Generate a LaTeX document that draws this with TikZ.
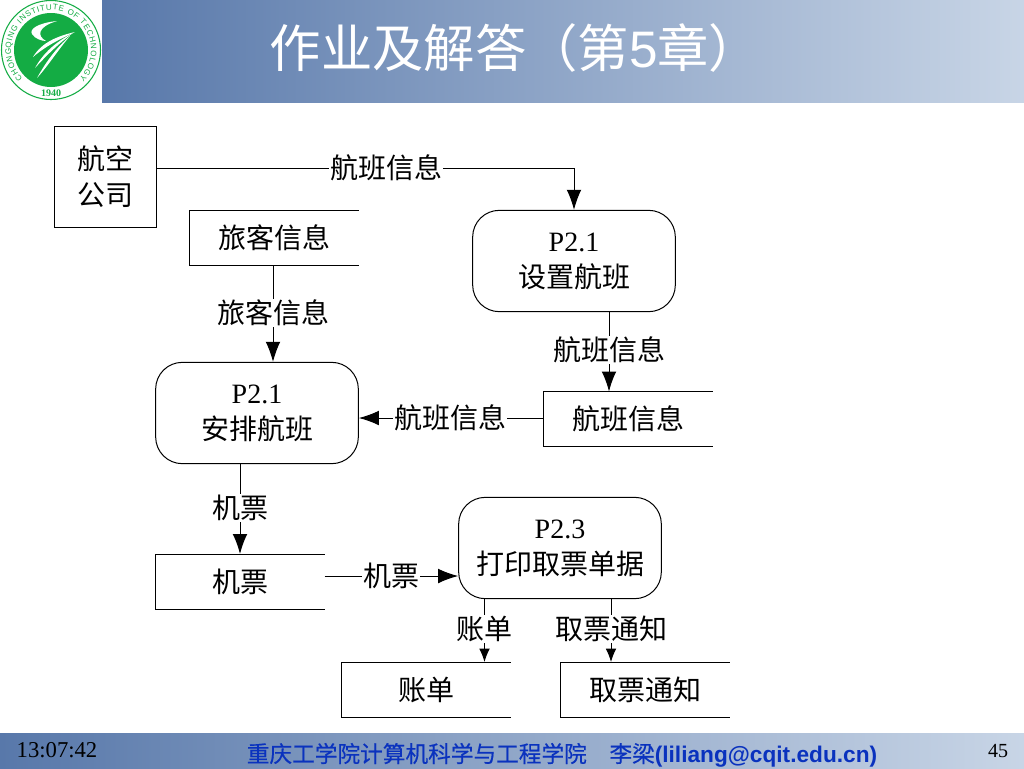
\documentclass[tikz,border=0pt]{standalone}
\usepackage{fontspec}
\setmainfont{Liberation Serif}
\newfontfamily\cjk{Noto Sans CJK SC}
\newfontfamily\cjkfoot[FakeBold=0.4]{Noto Sans CJK SC}
\newfontfamily\arialfont{Liberation Sans}
\usetikzlibrary{arrows.meta,decorations.text,positioning}
\definecolor{barleft}{RGB}{88,120,170}
\definecolor{barright}{RGB}{200,213,230}
\definecolor{logogreen}{RGB}{20,172,68}
\definecolor{footblue}{RGB}{10,50,190}

\begin{document}
\begin{tikzpicture}[
  x=0.75pt, y=-0.75pt, line width=0.75pt,
  entity/.style={draw, minimum width=76.5pt, minimum height=75.75pt, align=center, inner sep=0pt},
  proc/.style={draw, rounded corners=20pt, minimum width=152pt, minimum height=76pt, align=center, inner sep=0pt},
  store/.style={minimum width=126.25pt, minimum height=40.5pt, inner sep=0pt},
  lbl/.style={inner sep=0.5pt, fill=white},
  arr/.style={-{Latex[length=15pt,width=11pt]}},
  smallarr/.style={-{Latex[length=10pt,width=8pt]}},
  every node/.style={font=\fontsize{21}{27}\selectfont\cjk}
]
\useasboundingbox (0,0) rectangle (1024,768);

% ======= Header =======
\shade[left color=barleft, right color=barright] (102,0) rectangle (1024,102);
\node[font=\fontsize{38.5}{40}\selectfont\cjk, text=white] (title) at (515,48) {作业及解答（第{\arialfont 5}章）};

% ======= Logo =======
\draw[logogreen, line width=0.8pt] (51,50) circle (49.5);
\fill[logogreen] (51,50) circle (37);
\path[decorate, decoration={text along path, text align={fit to path},
    text={|\fontsize{6}{7}\selectfont\arialfont\color{logogreen}|CHONGQING INSTITUTE OF TECHNOLOGY}}]
  (22.7,78.3) arc[start angle=135, end angle=405, radius=40];
\node[font=\fontsize{7.5}{8}\selectfont\rmfamily\bfseries, text=logogreen, inner sep=0pt] (year) at (51,93) {1940};
\fill[white] (57,21) .. controls (38,23) and (29,29) .. (32,34)
  .. controls (35,39) and (42,41) .. (46,41)
  .. controls (37,36) and (37,27) .. (57,21);
\fill[white] (75,32) .. controls (58,36) and (42,42) .. (33,57) .. controls (46,46) and (58,40) .. (75,32);
\fill[white] (73,33) .. controls (56,42) and (44,52) .. (35,68) .. controls (46,56) and (58,44) .. (73,33);
\fill[white] (70,36) .. controls (56,48) and (46,62) .. (37,78) .. controls (48,66) and (58,50) .. (70,36);

% ======= Footer =======
\shade[left color=barleft, right color=barright] (0,733) rectangle (1024,768);
\node[font=\fontsize{17}{18}\selectfont] (clock) at (57,750) {13:07:42};
\node[font=\fontsize{17}{18}\selectfont\cjkfoot, text=footblue] (school) at (562,755)
  {重庆工学院计算机科学与工程学院\hspace{17pt}李梁{\arialfont\bfseries (liliang@cqit.edu.cn)}};
\node[font=\fontsize{15}{18}\selectfont] (pageno) at (998,751) {45};

% ======= Nodes =======
\node[entity] (airline) at (105,177) {航空\\公司};
\node[proc] (setup) at (574,261) {{\rmfamily P2.1}\\设置航班};
\node[proc] (arrange) at (257,413) {{\rmfamily P2.1}\\安排航班};
\node[proc] (print) at (560,548) {{\rmfamily P2.3}\\打印取票单据};

\node[store] (passdata) at (274,237.5) {旅客信息};
\node[store] (flightdata) at (628,419) {航班信息};
\node[store] (ticketdata) at (240,581.5) {机票};
\node[store] (billdata) at (426,689.5) {账单};
\node[store] (noticedata) at (645,689.5) {取票通知};

\foreach \s in {passdata,flightdata,ticketdata,billdata,noticedata}
  \draw (\s.north east) -- (\s.north west) -- (\s.south west) -- (\s.south east);

% ======= Labels =======
\node[lbl] (l1) at (386,168) {航班信息};
\node[lbl] (l2) at (273,313) {旅客信息};
\node[lbl] (l3) at (609,350) {航班信息};
\node[lbl] (l4) at (450,418) {航班信息};
\node[lbl] (l5) at (240,508) {机票};
\node[lbl] (l6) at (391,576) {机票};
\node[lbl] (l7) at (484.5,629) {账单};
\node[lbl] (l8) at (611,629) {取票通知};

% ======= Connections =======
\draw (airline.east |- l1) -- (l1);
\draw[arr] (l1) -| (setup.north);
\draw (passdata.south -| l2) -- (l2);
\draw[arr] (l2) -- (arrange.north -| l2);
\draw (setup.south -| l3) -- (l3);
\draw[arr] (l3) -- (flightdata.north -| l3);
\draw (flightdata.west |- l4) -- (l4);
\draw[arr] (l4) -- (arrange.east |- l4);
\draw (arrange.south -| l5) -- (l5);
\draw[arr] (l5) -- (ticketdata.north -| l5);
\draw (ticketdata.east |- l6) -- (l6);
\draw[arr] (l6) -- (print.west |- l6);
\draw (print.south -| l7) -- (l7);
\draw[smallarr] (l7) -- (billdata.north -| l7);
\draw (print.south -| l8) -- (l8);
\draw[smallarr] (l8) -- (noticedata.north -| l8);
\end{tikzpicture}
\end{document}
